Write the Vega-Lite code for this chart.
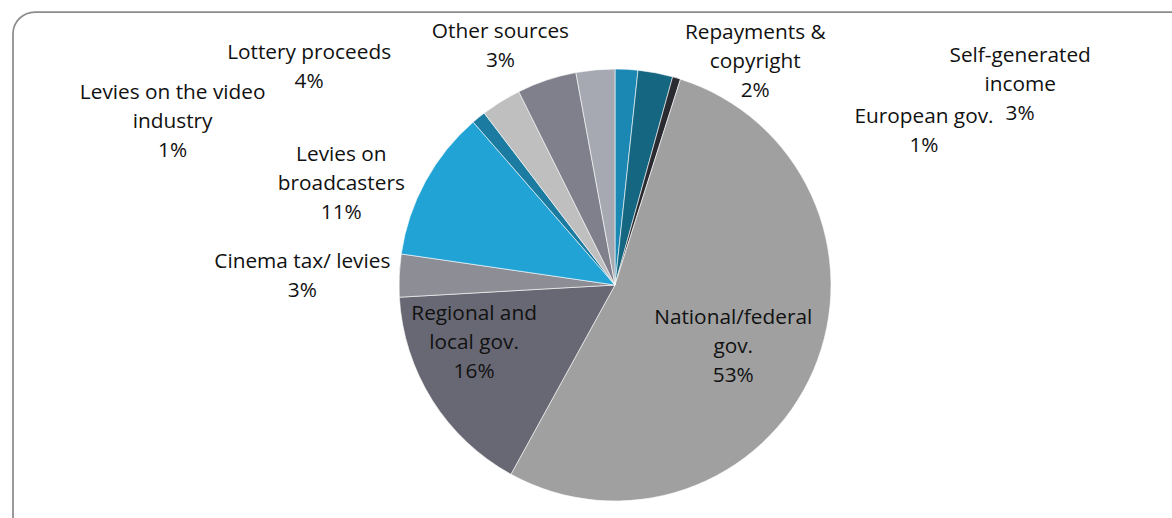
{
  "$schema": "https://vega.github.io/schema/vega-lite/v6.json",
  "width": 1204,
  "height": 546,
  "autosize": {"type": "none"},
  "padding": {"left": 13, "top": 12, "right": 0, "bottom": 0},
  "background": "white",
  "view": {"stroke": "#8c8c8c", "strokeWidth": 1.75, "cornerRadius": 22, "fill": "white"},
  "config": {
    "view": {"stroke": "#8c8c8c", "strokeWidth": 1.75, "cornerRadius": 22},
    "text": {"font": "Open Sans"}
  },
  "data": {
    "values": [
      {"ord": 1, "name": "Repayments & copyright", "value": 1.7, "label": "Repayments &\ncopyright\n2%"},
      {"ord": 2, "name": "Self-generated income", "value": 2.6, "label": "Self-generated\nincome\n3%"},
      {"ord": 3, "name": "European gov.", "value": 0.6, "label": "European gov.\n1%"},
      {"ord": 4, "name": "National/federal gov.", "value": 53.1, "label": "National/federal\ngov.\n53%"},
      {"ord": 5, "name": "Regional and local gov.", "value": 16.1, "label": "Regional and\nlocal gov.\n16%"},
      {"ord": 6, "name": "Cinema tax/ levies", "value": 3.2, "label": "Cinema tax/ levies\n3%"},
      {"ord": 7, "name": "Levies on broadcasters", "value": 11.3, "label": "Levies on\nbroadcasters\n11%"},
      {"ord": 8, "name": "Levies on the video industry", "value": 1.05, "label": "Levies on the video\nindustry\n1%"},
      {"ord": 9, "name": "Unlabelled", "value": 3.0, "label": ""},
      {"ord": 10, "name": "Lottery proceeds", "value": 4.45, "label": "Lottery proceeds\n4%"},
      {"ord": 11, "name": "Other sources", "value": 2.9, "label": "Other sources\n3%"}
    ]
  },
  "encoding": {
    "theta": {"field": "value", "type": "quantitative", "stack": true},
    "order": {"field": "ord", "type": "quantitative"}
  },
  "layer": [
    {
      "mark": {"type": "arc", "outerRadius": 216, "stroke": "white", "strokeWidth": 0.6},
      "encoding": {
        "color": {
          "field": "name",
          "type": "nominal",
          "scale": {
            "domain": ["Repayments & copyright", "Self-generated income", "European gov.", "National/federal gov.", "Regional and local gov.", "Cinema tax/ levies", "Levies on broadcasters", "Levies on the video industry", "Unlabelled", "Lottery proceeds", "Other sources"],
            "range": ["#1b88b4", "#156680", "#2a2b30", "#a0a0a0", "#686874", "#8d8d96", "#22a3d6", "#1b7ba1", "#bfbfbf", "#7f808c", "#a6a9b2"]
          },
          "legend": null
        }
      }
    },
    {
      "mark": {"type": "text", "radius": 230, "dx": 128, "dy": -22, "align": "center", "baseline": "middle", "lineBreak": "\n", "fontSize": 20.8, "lineHeight": 29, "color": "#111111"},
      "encoding": {"detail": {"field": "name", "type": "nominal"}, "text": {"condition": {"test": "datum.name === 'Repayments & copyright'", "field": "label", "type": "nominal"}, "value": ""}}
    },
    {
      "mark": {"type": "text", "radius": 273, "dx": 354, "dy": 39, "align": "center", "baseline": "middle", "lineBreak": "\n", "fontSize": 20.8, "lineHeight": 29, "color": "#111111"},
      "encoding": {"detail": {"field": "name", "type": "nominal"}, "text": {"condition": {"test": "datum.name === 'Self-generated income'", "field": "label", "type": "nominal"}, "value": ""}}
    },
    {
      "mark": {"type": "text", "radius": 235, "dx": 242, "dy": 57, "align": "center", "baseline": "middle", "lineBreak": "\n", "fontSize": 20.8, "lineHeight": 29, "color": "#111111"},
      "encoding": {"detail": {"field": "name", "type": "nominal"}, "text": {"condition": {"test": "datum.name === 'European gov.'", "field": "label", "type": "nominal"}, "value": ""}}
    },
    {
      "mark": {"type": "text", "radius": 133, "dx": -4, "dy": -19, "align": "center", "baseline": "middle", "lineBreak": "\n", "fontSize": 20.8, "lineHeight": 29, "color": "#111111"},
      "encoding": {"detail": {"field": "name", "type": "nominal"}, "text": {"condition": {"test": "datum.name === 'National/federal gov.'", "field": "label", "type": "nominal"}, "value": ""}}
    },
    {
      "mark": {"type": "text", "radius": 150, "dx": -14, "dy": -51, "align": "center", "baseline": "middle", "lineBreak": "\n", "fontSize": 20.8, "lineHeight": 29, "color": "#111111"},
      "encoding": {"detail": {"field": "name", "type": "nominal"}, "text": {"condition": {"test": "datum.name === 'Regional and local gov.'", "field": "label", "type": "nominal"}, "value": ""}}
    },
    {
      "mark": {"type": "text", "radius": 313, "dx": 0, "dy": -9, "align": "center", "baseline": "middle", "lineBreak": "\n", "fontSize": 20.8, "lineHeight": 29, "color": "#111111"},
      "encoding": {"detail": {"field": "name", "type": "nominal"}, "text": {"condition": {"test": "datum.name === 'Cinema tax/ levies'", "field": "label", "type": "nominal"}, "value": ""}}
    },
    {
      "mark": {"type": "text", "radius": 289, "dx": -20, "dy": 8, "align": "center", "baseline": "middle", "lineBreak": "\n", "fontSize": 20.8, "lineHeight": 29, "color": "#111111"},
      "encoding": {"detail": {"field": "name", "type": "nominal"}, "text": {"condition": {"test": "datum.name === 'Levies on broadcasters'", "field": "label", "type": "nominal"}, "value": ""}}
    },
    {
      "mark": {"type": "text", "radius": 406, "dx": -186, "dy": 123, "align": "center", "baseline": "middle", "lineBreak": "\n", "fontSize": 20.8, "lineHeight": 29, "color": "#111111"},
      "encoding": {"detail": {"field": "name", "type": "nominal"}, "text": {"condition": {"test": "datum.name === 'Levies on the video industry'", "field": "label", "type": "nominal"}, "value": ""}}
    },
    {
      "mark": {"type": "text", "radius": 303, "dx": -210, "dy": 55, "align": "center", "baseline": "middle", "lineBreak": "\n", "fontSize": 20.8, "lineHeight": 29, "color": "#111111"},
      "encoding": {"detail": {"field": "name", "type": "nominal"}, "text": {"condition": {"test": "datum.name === 'Lottery proceeds'", "field": "label", "type": "nominal"}, "value": ""}}
    },
    {
      "mark": {"type": "text", "radius": 248, "dx": -92, "dy": -6, "align": "center", "baseline": "middle", "lineBreak": "\n", "fontSize": 20.8, "lineHeight": 29, "color": "#111111"},
      "encoding": {"detail": {"field": "name", "type": "nominal"}, "text": {"condition": {"test": "datum.name === 'Other sources'", "field": "label", "type": "nominal"}, "value": ""}}
    }
  ]
}
